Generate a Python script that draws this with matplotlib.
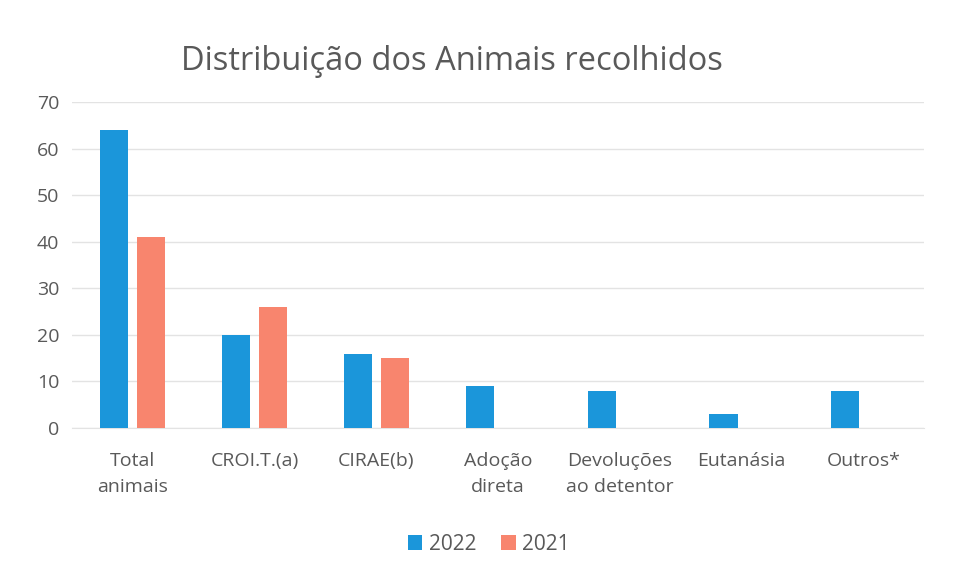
import matplotlib
matplotlib.use("Agg")
import matplotlib.pyplot as plt
import numpy as np

categories = ["Total\nanimais", "CROI.T.(a)", "CIRAE(b)", "Adoção\ndireta",
              "Devoluções\nao detentor", "Eutanásia", "Outros*"]
vals_2022 = [64, 20, 16, 9, 8, 3, 8]
vals_2021 = [41, 26, 15, 0, 0, 0, 0]

blue = "#1b96da"
salmon = "#f8856e"
grey = "#595959"

plt.rcParams['font.family'] = ['Open Sans', 'DejaVu Sans']

fig = plt.figure(figsize=(9.58, 5.74), dpi=100)
ax = fig.add_axes([0.075, 0.2544, 0.89, 0.5676])

x = np.arange(len(categories))
w = 0.23
ax.bar(x - 0.15, vals_2022, width=w, color=blue, label="2022", zorder=3)
# only draw 2021 bars where there is a value
x21 = [xi for xi, v in zip(x, vals_2021) if v > 0]
v21 = [v for v in vals_2021 if v > 0]
ax.bar(np.array(x21) + 0.15, v21, width=w, color=salmon, label="2021", zorder=3)

ax.set_xlim(-0.5, len(categories) - 0.5)
ax.set_ylim(0, 70)
ax.set_yticks(range(0, 71, 10))
ax.yaxis.grid(True, color="#e3e3e3", linewidth=1, zorder=0)
ax.set_axisbelow(True)
for s in ["top", "right", "left"]:
    ax.spines[s].set_visible(False)
ax.spines["bottom"].set_color("#e3e3e3")

ax.set_xticks(x)
ax.set_xticklabels(categories, fontsize=14, color=grey, linespacing=1.6)
ax.tick_params(axis="x", length=0, pad=17)
ax.tick_params(axis="y", length=0, labelsize=14, labelcolor=grey, pad=9)

fig.text(0.472, 0.892, "Distribuição dos Animais recolhidos", ha="center", va="center",
         fontsize=23.5, color=grey)

leg = fig.legend(loc="center", bbox_to_anchor=(0.51, 0.052), ncol=2, frameon=False,
                 fontsize=15, handlelength=0.7, handleheight=0.7, columnspacing=1.2,
                 handletextpad=0.3)
for t in leg.get_texts():
    t.set_color(grey)

fig.savefig("out.png", dpi=100)
